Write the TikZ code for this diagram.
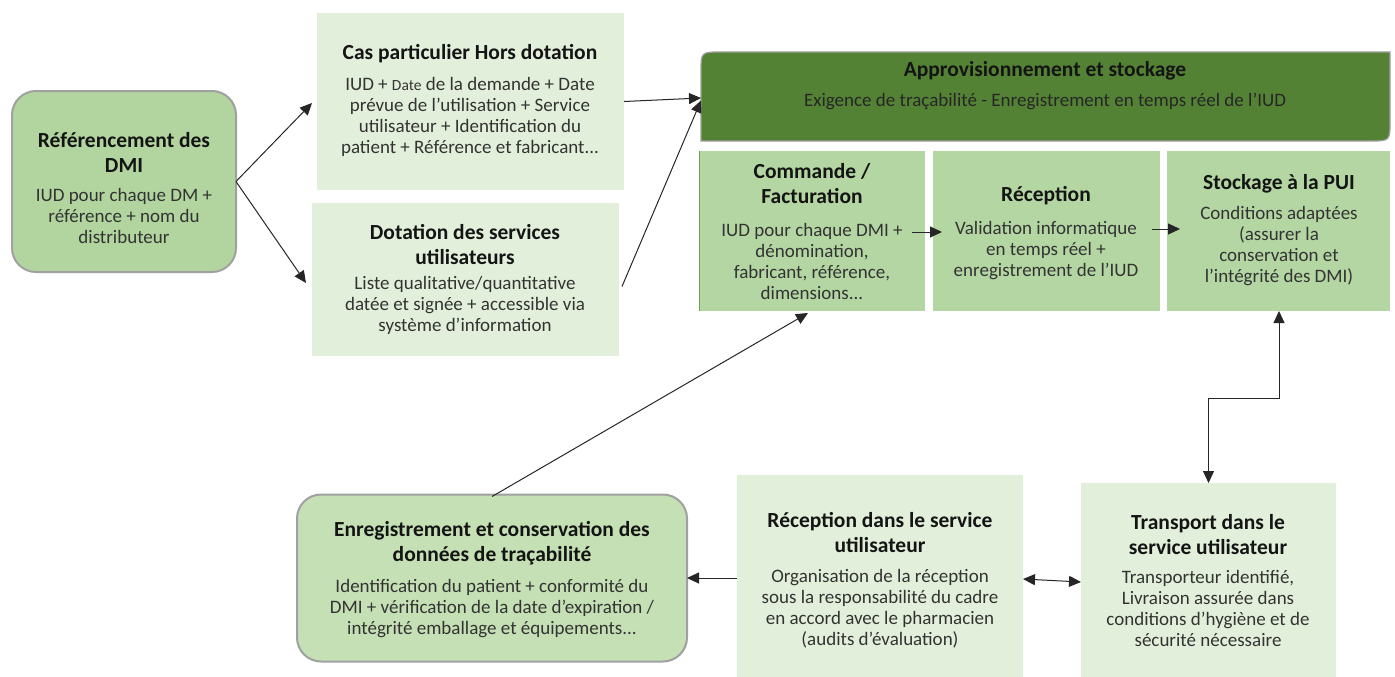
\documentclass[tikz,border=0pt]{standalone}
\usepackage{fontspec}
\setmainfont{Carlito}
\usetikzlibrary{arrows.meta,calc}
\definecolor{lightg}{HTML}{E2EFDA}
\definecolor{midg}{HTML}{B4D6A3}
\definecolor{refg}{HTML}{B2D59F}
\definecolor{enrg}{HTML}{C5E0B4}
\definecolor{darkg}{HTML}{548235}
\definecolor{edgegray}{HTML}{A0A0A0}
\definecolor{bodytext}{HTML}{333333}
\definecolor{headtext}{HTML}{141414}
\begin{document}
\begin{tikzpicture}[x=1pt,y=-1pt,
  box/.style={inner sep=0pt, outer sep=0pt},
  plainbox/.style={box, fill=#1},
  roundbox/.style={box, fill=#1, draw=edgegray, line width=2pt, rounded corners=24pt},
  title/.style={align=center, inner sep=0pt, text=headtext,
    font=\fontsize{21.5}{25}\selectfont\bfseries},
  body/.style={align=center, inner sep=0pt, text=bodytext,
    font=\fontsize{19}{21}\selectfont},
  tip/.style={Triangle[length=12pt,width=11pt]},
  link/.style={line width=1pt, draw=black!85, -{Triangle[length=12pt,width=11pt]}},
  duallink/.style={line width=1pt, draw=black!85,
    {Triangle[length=12pt,width=11pt]}-{Triangle[length=12pt,width=11pt]}}]
\useasboundingbox (0,0) rectangle (1395,677);

% --- boxes -----------------------------------------------------------
\node[roundbox=refg, minimum width=224pt, minimum height=181pt] (ref) at (124,181.5) {};
\node[plainbox=lightg, minimum width=307pt, minimum height=177pt] (cas) at (470.5,101.5) {};
\node[plainbox=lightg, minimum width=307pt, minimum height=153pt] (dot) at (465.5,279.5) {};

% supply header with two rounded corners (top left, bottom right)
\node[box, minimum width=689pt, minimum height=89pt] (appr) at (1045.5,96.5) {};
\draw[fill=darkg, draw=edgegray, line width=1.2pt]
  (appr.south west) -- ($(appr.north west)+(0,20)$)
  .. controls (appr.north west) .. ($(appr.north west)+(20,0)$)
  -- (appr.north east) -- ($(appr.south east)+(0,-20)$)
  .. controls (appr.south east) .. ($(appr.south east)+(-20,0)$) -- cycle;

\node[plainbox=midg, minimum width=226pt, minimum height=160pt] (com) at (812,231) {};
\draw[line width=1pt, draw=darkg!80] (com.north west) -- (com.south west);
\node[plainbox=midg, minimum width=227pt, minimum height=160pt] (rec) at (1046.5,231) {};
\node[plainbox=midg, minimum width=223pt, minimum height=160pt] (sto) at (1278.5,231) {};

\node[roundbox=enrg, minimum width=390pt, minimum height=167pt] (enr) at (492,578) {};
\node[plainbox=lightg, minimum width=286pt, minimum height=202pt] (rs) at (880,576) {};
\node[plainbox=lightg, minimum width=255pt, minimum height=194pt] (tra) at (1208.5,580) {};

% --- texts -----------------------------------------------------------
\node[title] (refT) at (124,152) {Référencement des\\DMI};
\node[body]  (refB) at (124,216) {IUD pour chaque DM +\\référence + nom du\\distributeur};

\node[title] (casT) at (470,54) {Cas particulier Hors dotation};
\node[body]  (casB) at (470,117) {IUD + {\fontsize{15.5}{21}\selectfont Date} de la demande + Date\\prévue de l'utilisation + Service\\utilisateur + Identification du\\patient + Référence et fabricant...};

\node[title] (dotT) at (465,244.5) {Dotation des services\\utilisateurs};
\node[body]  (dotB) at (465,305.5) {Liste qualitative/quantitative\\datée et signée + accessible via\\système d'information};

\node[title] (apprT) at (1045,71) {Approvisionnement et stockage};
\node[body, text=black!85] (apprB) at (1045,101) {Exigence de traçabilité - Enregistrement en temps réel de l'IUD};

\node[title] (comT) at (812,184) {Commande /\\Facturation};
\node[body]  (comB) at (812,261) {IUD pour chaque DMI +\\dénomination,\\fabricant, référence,\\dimensions...};

\node[title] (recT) at (1046,196) {Réception};
\node[body]  (recB) at (1046,250.5) {Validation informatique\\en temps réel +\\enregistrement de l'IUD};

\node[title] (stoT) at (1279,184) {Stockage à la PUI};
\node[body]  (stoB) at (1279,246.5) {Conditions adaptées\\(assurer la\\conservation et\\l'intégrité des DMI)};

\node[title] (enrT) at (492,543.5) {Enregistrement et conservation des\\données de traçabilité};
\node[body]  (enrB) at (492,609) {Identification du patient + conformité du\\DMI + vérification de la date d'expiration /\\intégrité emballage et équipements...};

\node[title] (rsT) at (880,533) {Réception dans le service\\utilisateur};
\node[body]  (rsB) at (880,608.5) {Organisation de la réception\\sous la responsabilité du cadre\\en accord avec le pharmacien\\(audits d’évaluation)};

\node[title] (traT) at (1208,535) {Transport dans le\\service utilisateur};
\node[body]  (traB) at (1208,608.5) {Transporteur identifié,\\Livraison assurée dans\\conditions d'hygiène et de\\sécurité nécessaire};

% --- connectors ------------------------------------------------------
\draw[link] (ref.east) -- ($(cas.west)+(-5,1.5)$);
\draw[link] (ref.east) -- ($(dot.west)+(-6,3.5)$);
\draw[link] (cas.east) -- ($(appr.west)+(0,1.5)$);
\draw[link] ($(dot.east)+(3,7)$) -- ($(appr.west)+(0,4)$);
\draw[link] ($(enr.north)+(0,2)$) -- ($(com.south)+(-4,2)$);
\draw[link] ($(com.east)+(-13,1)$) -- ($(rec.west)+(9,1)$);
\draw[link] ($(rec.east)+(-8,-2)$) -- ($(sto.west)+(13,-2)$);
\draw[duallink] (tra.north) -- ++(0,-85) -| ($(sto.south)+(0.5,0)$);
\draw[duallink] ($(rs.east)+(0,3)$) -- ($(tra.west)+(0,2)$);
\draw[link] ($(rs.west)+(0,2)$) -- ($(enr.east)+(0,0)$);
\end{tikzpicture}
\end{document}
